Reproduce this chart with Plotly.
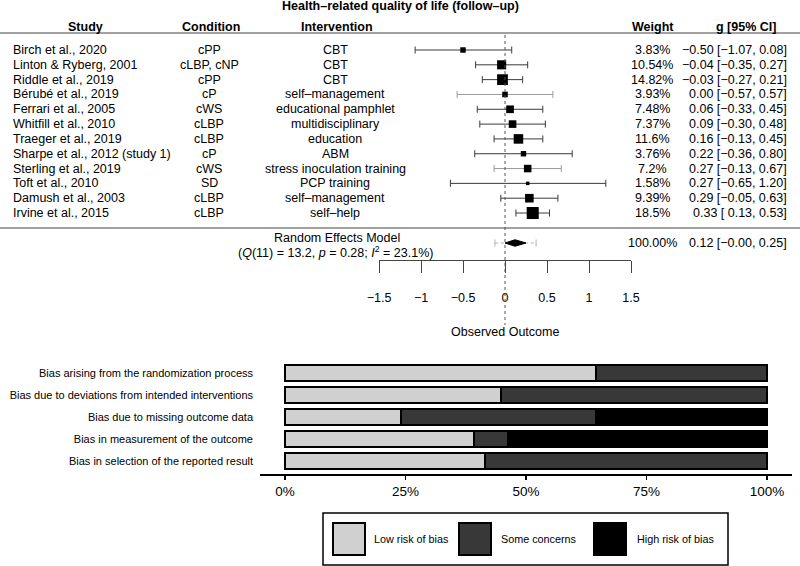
import math
import plotly.graph_objects as go

# ---------------- data ----------------
title_text = "Health–related quality of life (follow–up)"
col_headers = ["Study", "Condition", "Intervention", "Weight", "g [95% CI]"]

studies = ["Birch et al., 2020", "Linton & Ryberg, 2001", "Riddle et al., 2019",
           "Bérubé et al., 2019", "Ferrari et al., 2005", "Whitfill et al., 2010",
           "Traeger et al., 2019", "Sharpe et al., 2012 (study 1)", "Sterling et al., 2019",
           "Toft et al., 2010", "Damush et al., 2003", "Irvine et al., 2015"]
conditions = ["cPP", "cLBP, cNP", "cPP", "cP", "cWS", "cLBP", "cLBP", "cP", "cWS",
              "SD", "cLBP", "cLBP"]
interventions = ["CBT", "CBT", "CBT", "self–management", "educational pamphlet",
                 "multidisciplinary", "education", "ABM", "stress inoculation training",
                 "PCP training", "self–management", "self–help"]
weights = [3.83, 10.54, 14.82, 3.93, 7.48, 7.37, 11.6, 3.76, 7.2, 1.58, 9.39, 18.5]
g_est = [-0.50, -0.04, -0.03, 0.00, 0.06, 0.09, 0.16, 0.22, 0.27, 0.27, 0.29, 0.33]
ci_lo = [-1.07, -0.35, -0.27, -0.57, -0.33, -0.30, -0.13, -0.36, -0.13, -0.65, -0.05, 0.13]
ci_hi = [0.08, 0.27, 0.21, 0.57, 0.45, 0.48, 0.45, 0.80, 0.67, 1.20, 0.63, 0.53]
light_ci_rows = [3, 8]

re_label = "Random Effects Model"
re_est, re_lo, re_hi = 0.12, -0.0, 0.25
pi_lo, pi_hi = -0.12, 0.37
re_weight_label = "100.00%"
re_Q, re_df, re_p, re_I2 = 13.2, 11, 0.28, 23.1

forest_ticks = [-1.5, -1, -0.5, 0, 0.5, 1, 1.5]
forest_xlabel = "Observed Outcome"

bias_domains = ["Bias arising from the randomization process",
                "Bias due to deviations from intended interventions",
                "Bias due to missing outcome data",
                "Bias in measurement of the outcome",
                "Bias in selection of the reported result"]
bias_low = [0.645, 0.448, 0.241, 0.392, 0.415]
bias_some = [0.355, 0.552, 0.404, 0.071, 0.585]
bias_high = [0.0, 0.0, 0.355, 0.537, 0.0]
bias_levels = ["Low risk of bias", "Some concerns", "High risk of bias"]
bias_ticks = [0, 0.25, 0.5, 0.75, 1.0]

# ---------------- layout helpers ----------------
W, H = 800, 566
FONT = "Liberation Sans"
def px(p):
    return p / W
def py(p):
    return 1 - p / H

ROW0, STEP = 50, 14.82          # pixel y of first study row, row spacing
AXIS_PX = 260                   # pixel y of forest axis line
re_row = (243 - ROW0) / STEP

def num(v):
    return f"{v:.2f}".replace("-", "−")

def ci_text(e, lo, hi):
    los = num(lo)
    if lo >= 0 and not str(lo).startswith("-"):
        los = " " + los
    return f"{num(e)} [{los}, {num(hi)}]"

fig = go.Figure()

# ---------------- forest: CI lines ----------------
for group, color in (("dark", "#3a3a3a"), ("light", "#9a9a9a")):
    xs, ys = [], []
    for i in range(len(studies)):
        is_light = i in light_ci_rows
        if (group == "light") != is_light:
            continue
        xs += [ci_lo[i], ci_hi[i], None]
        ys += [i, i, None]
    fig.add_trace(go.Scatter(
        x=xs, y=ys, mode="lines+markers",
        line=dict(color=color, width=1),
        marker=dict(symbol="line-ns", size=5, line=dict(color=color, width=1)),
        hoverinfo="skip", xaxis="x", yaxis="y", cliponaxis=False))

# squares
fig.add_trace(go.Scatter(
    x=g_est, y=list(range(len(studies))), mode="markers",
    marker=dict(symbol="square", color="black", opacity=1,
                size=[2.8 * math.sqrt(w) for w in weights], line=dict(width=0)),
    hoverinfo="skip", xaxis="x", yaxis="y", cliponaxis=False))

# prediction interval
fig.add_trace(go.Scatter(
    x=[pi_lo, pi_hi], y=[re_row, re_row], mode="lines+markers",
    line=dict(color="#b0b0b0", width=1, dash="dot"),
    marker=dict(symbol="line-ns", size=5, line=dict(color="#b0b0b0", width=1)),
    hoverinfo="skip", xaxis="x", yaxis="y", cliponaxis=False))

# diamond
dh = 0.22
fig.add_trace(go.Scatter(
    x=[re_lo, re_est, re_hi, re_est, re_lo],
    y=[re_row, re_row - dh, re_row, re_row + dh, re_row],
    mode="lines", fill="toself", fillcolor="black",
    line=dict(color="black", width=1),
    hoverinfo="skip", xaxis="x", yaxis="y", cliponaxis=False))

# ---------------- bias bars ----------------
bias_colors = ["#d0d0d0", "#383838", "#000000"]
for name, vals, col in zip(bias_levels, (bias_low, bias_some, bias_high), bias_colors):
    fig.add_trace(go.Bar(
        y=bias_domains, x=vals, orientation="h", name=name,
        marker=dict(color=col, line=dict(color="black", width=2)),
        width=16 / 22, hoverinfo="skip", xaxis="x2", yaxis="y2"))

# ---------------- annotations ----------------
ann = []
def text(x, y, s, size=12.5, xanchor="center", bold=False, xref="paper", yref="paper", color="black"):
    if bold:
        s = f"<b>{s}</b>"
    ann.append(dict(x=x, y=y, xref=xref, yref=yref, text=s, showarrow=False,
                    xanchor=xanchor, yanchor="middle",
                    font=dict(family=FONT, size=size, color=color)))

text(px(400), py(6), title_text, bold=True)
hdr_x = [(85, "center"), (211, "center"), (337, "center"), (653, "center"), (746, "center")]
for (hx, anc), h in zip(hdr_x, col_headers):
    text(px(hx), py(27), h, xanchor=anc, bold=True)

for i in range(len(studies)):
    yy = py(ROW0 + STEP * i)
    text(px(11), yy, studies[i], xanchor="left")
    text(px(209), yy, conditions[i])
    text(px(335), yy, interventions[i])
    text(px(652), yy, f"{weights[i]:g}%")
    text(px(789), yy, ci_text(g_est[i], ci_lo[i], ci_hi[i]), xanchor="right")

text(px(337), py(238), re_label)
text(px(335), py(252),
     f"(<i>Q</i>({re_df}) = {re_Q}, <i>p</i> = {re_p}; <i>I</i><sup>2</sup> = {re_I2}%)")
text(px(652), py(243), re_weight_label)
text(px(789), py(243), ci_text(re_est, re_lo, re_hi), xanchor="right")
text(0, py(332), forest_xlabel, xref="x")

# legend (manual, large swatches)
leg_sw_x = [333, 459, 594]
leg_lab_x = [372, 499, 635]
shapes = []
shapes.append(dict(type="rect", xref="paper", yref="paper", x0=px(323), x1=px(728),
                   y0=py(565), y1=py(513), line=dict(color="black", width=1.5)))
for sx, lx, lab, col in zip(leg_sw_x, leg_lab_x, bias_levels, bias_colors):
    shapes.append(dict(type="rect", xref="paper", yref="paper", x0=px(sx), x1=px(sx + 32),
                       y0=py(555), y1=py(523), fillcolor=col,
                       line=dict(color="black", width=2)))
    text(px(lx), py(539), lab, size=10.8, xanchor="left")

# lines
shapes.append(dict(type="line", xref="paper", yref="paper", x0=0, x1=1, y0=py(33), y1=py(33),
                   line=dict(color="#444", width=1)))
shapes.append(dict(type="line", xref="paper", yref="paper", x0=0, x1=1, y0=py(228), y1=py(228),
                   line=dict(color="#444", width=1)))
shapes.append(dict(type="line", xref="x", yref="paper", x0=0, x1=0, y0=py(35), y1=py(325),
                   line=dict(color="#555", width=1, dash="dot")))

fig.update_layout(
    width=W, height=H, margin=dict(l=0, r=0, t=0, b=0, autoexpand=False),
    paper_bgcolor="white", plot_bgcolor="rgba(0,0,0,0)",
    showlegend=False, barmode="stack", hovermode=False,
    font=dict(family=FONT, color="black"),
    annotations=ann, shapes=shapes,
    xaxis=dict(domain=[px(379), px(631)], range=[-1.5, 1.5], anchor="y",
               showline=True, linecolor="#444", linewidth=1,
               ticks="outside", ticklen=12, tickwidth=1, tickcolor="#444",
               tickvals=forest_ticks,
               ticktext=[f"{t:g}".replace("-", "−") for t in forest_ticks],
               tickfont=dict(size=12.5, family=FONT, color="black"),
               ticklabelstandoff=14,
               showgrid=False, zeroline=False, fixedrange=True),
    yaxis=dict(domain=[py(AXIS_PX), 1],
               range=[(AXIS_PX - ROW0) / STEP, (0 - ROW0) / STEP],
               visible=False, fixedrange=True),
    xaxis2=dict(domain=[px(260), px(792)], range=[-0.0519, 1.0519], anchor="y2",
                showline=True, linecolor="black", linewidth=1.5,
                ticks="outside", ticklen=4, tickwidth=1.5, tickcolor="black",
                tickvals=bias_ticks, ticktext=[f"{int(t*100)}%" for t in bias_ticks],
                tickfont=dict(size=13.5, family=FONT, color="black"),
                showgrid=False, zeroline=False, fixedrange=True),
    yaxis2=dict(domain=[py(474), py(350)], anchor="x2",
                categoryorder="array", categoryarray=bias_domains,
                range=[(474 - 373) / 22, (350 - 373) / 22],
                showline=False, ticks="", showgrid=False, zeroline=False,
                tickfont=dict(size=11, family=FONT, color="black"),
                ticklabelstandoff=6, fixedrange=True),
)

fig.write_html("out.html", config={"displayModeBar": False, "staticPlot": True},
               post_script="document.body.style.margin='0';document.body.style.padding='0';")
